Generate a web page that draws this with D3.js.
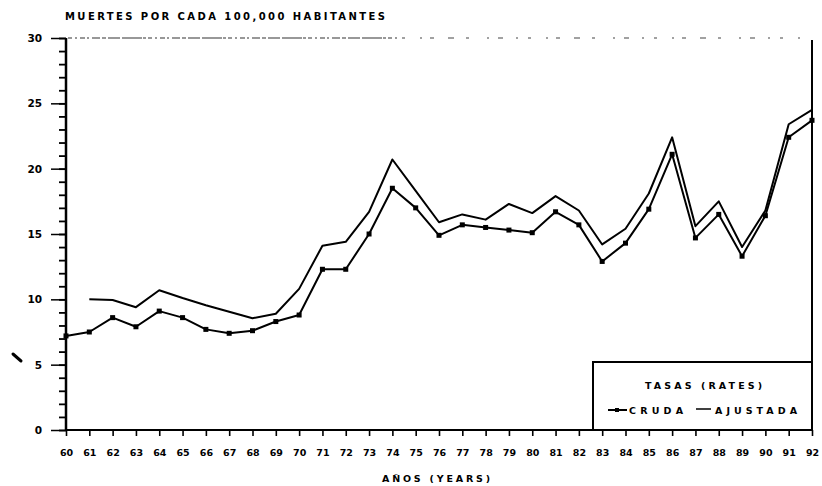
<!DOCTYPE html>
<html>
<head>
<meta charset="utf-8">
<script src="https://cdn.jsdelivr.net/npm/d3@7"></script>
<style>
  html, body { margin: 0; padding: 0; background: #fff; }
  svg { display: block; font-family: "DejaVu Sans", Arial, sans-serif; font-weight: bold; }
</style>
</head>
<body>
<svg id="chart" width="822" height="486"></svg>
<script>
const years = d3.range(60, 93);
const yearLabels = years.map(String);
const cruda = [7.2, 7.5, 8.6, 7.9, 9.1, 8.6, 7.7, 7.4, 7.6, 8.3, 8.8, 12.3, 12.3, 15.0, 18.5, 17.0, 14.9, 15.7, 15.5, 15.3, 15.1, 16.7, 15.7, 12.9, 14.3, 16.9, 21.1, 14.7, 16.5, 13.3, 16.4, 22.4, 23.7];
const ajustada = [null, 10.0, 9.95, 9.4, 10.7, 10.1, 9.55, 9.05, 8.55, 8.9, 10.8, 14.1, 14.4, 16.7, 20.7, 18.3, 15.9, 16.5, 16.1, 17.3, 16.6, 17.9, 16.8, 14.2, 15.4, 18.1, 22.4, 15.6, 17.5, 14.0, 16.8, 23.4, 24.5];
const yMajorTicks = [0, 5, 10, 15, 20, 25, 30];
const yMinorTicks = d3.range(0, 31);
const titleText = "MUERTES POR CADA 100,000 HABITANTES";
const xTitleText = "AÑOS (YEARS)";
const legendTitle = "TASAS (RATES)";
const seriesNames = ["CRUDA", "AJUSTADA"];

const FONT = "DejaVu Sans, Arial, sans-serif";
const svg = d3.select("#chart");
const x = d3.scaleLinear().domain([60, 92]).range([66, 812]);
const y = d3.scaleLinear().domain([0, 30]).range([430, 38]);

// Title
svg.append("text").attr("x", 65).attr("y", 20)
  .attr("font-size", 10).attr("textLength", 320).attr("lengthAdjust", "spacing")
  .text(titleText);

// Top dashed border (scan remnant)
svg.append("line").attr("x1", 68).attr("x2", 400).attr("y1", y(30)).attr("y2", y(30))
  .attr("stroke", "#333").attr("stroke-width", 1.2)
  .attr("stroke-dasharray", "4,3,2,3,5,2,2,3,8,2,4,2,12,2,20,1,3,2");
svg.append("line").attr("x1", 402).attr("x2", 806).attr("y1", y(30)).attr("y2", y(30))
  .attr("stroke", "#444").attr("stroke-width", 1.1)
  .attr("stroke-dasharray", "3,15,2,8,4,14,6,12,3,18,2,9,5,13,2,10");

// Right border
svg.append("line").attr("x1", 812).attr("x2", 812).attr("y1", y(30) + 2).attr("y2", y(0))
  .attr("stroke", "#000").attr("stroke-width", 2);

// Y axis minor ticks
const yMinor = svg.append("g").attr("transform", "translate(66,0)")
  .call(d3.axisLeft(y).tickValues(yMinorTicks).tickSize(7).tickFormat(""));
yMinor.select(".domain").remove();
yMinor.selectAll("line").attr("stroke", "#000").attr("stroke-width", 1.8);

// Y axis major ticks + labels
const yMajor = svg.append("g").attr("transform", "translate(66,0)")
  .call(d3.axisLeft(y).tickValues(yMajorTicks).tickSize(15).tickPadding(9));
yMajor.select(".domain").attr("d", `M0,${y(30)}V${y(0)}`).attr("stroke", "#000").attr("stroke-width", 2.5);
yMajor.selectAll("line").attr("stroke", "#000").attr("stroke-width", 1.5);
yMajor.selectAll("text").attr("font-size", 10.5).attr("font-weight", "bold")
  .attr("font-family", FONT).attr("fill", "#000");

// X axis
const xAxis = svg.append("g").attr("transform", `translate(0,${y(0)})`)
  .call(d3.axisBottom(x).tickValues(years).tickSize(6).tickPadding(13)
    .tickFormat((d, i) => yearLabels[i]));
xAxis.select(".domain").attr("d", `M${x(60)},0H${x(92)}`).attr("stroke", "#000").attr("stroke-width", 2);
xAxis.selectAll("line").attr("stroke", "#000").attr("stroke-width", 1.6);
xAxis.selectAll("text").attr("font-size", 9.5).attr("font-weight", "bold")
  .attr("font-family", FONT).attr("fill", "#000");

// X title
svg.append("text").attr("x", 382).attr("y", 482)
  .attr("font-size", 9.5).attr("textLength", 108).attr("lengthAdjust", "spacing")
  .text(xTitleText);

// Slash mark near y-axis
svg.append("path").attr("d", "M13,354L21,361").attr("stroke", "#000")
  .attr("stroke-width", 3).attr("stroke-linecap", "round");

// Lines
const line = d3.line().defined(d => d[1] != null).x(d => x(d[0])).y(d => y(d[1]));
svg.append("path").datum(years.map((yr, i) => [yr, ajustada[i]]))
  .attr("d", line).attr("fill", "none").attr("stroke", "#000").attr("stroke-width", 2)
  .attr("stroke-linejoin", "round");
svg.append("path").datum(years.map((yr, i) => [yr, cruda[i]]))
  .attr("d", line).attr("fill", "none").attr("stroke", "#000").attr("stroke-width", 2)
  .attr("stroke-linejoin", "round");
svg.selectAll("rect.mk").data(years.map((yr, i) => [yr, cruda[i]])).enter()
  .append("rect").attr("class", "mk")
  .attr("x", d => x(d[0]) - 2.5).attr("y", d => y(d[1]) - 2.5)
  .attr("width", 5).attr("height", 5).attr("fill", "#000");

// Legend box
const lg = svg.append("g");
lg.append("rect").attr("x", 593).attr("y", 362).attr("width", 219).attr("height", 68)
  .attr("fill", "#fff").attr("stroke", "#000").attr("stroke-width", 2);
lg.append("text").attr("x", 645).attr("y", 389).attr("font-size", 9.5)
  .attr("textLength", 117).attr("lengthAdjust", "spacing").text(legendTitle);
lg.append("line").attr("x1", 608).attr("x2", 627).attr("y1", 410).attr("y2", 410)
  .attr("stroke", "#000").attr("stroke-width", 2);
lg.append("rect").attr("x", 615).attr("y", 408).attr("width", 4).attr("height", 4).attr("fill", "#000");
lg.append("text").attr("x", 629).attr("y", 414).attr("font-size", 9.5)
  .attr("textLength", 54).attr("lengthAdjust", "spacing").text(seriesNames[0]);
lg.append("line").attr("x1", 696).attr("x2", 711).attr("y1", 409).attr("y2", 409)
  .attr("stroke", "#000").attr("stroke-width", 1.5);
lg.append("text").attr("x", 715).attr("y", 414).attr("font-size", 9.5)
  .attr("textLength", 82).attr("lengthAdjust", "spacing").text(seriesNames[1]);
</script>
</body>
</html>
